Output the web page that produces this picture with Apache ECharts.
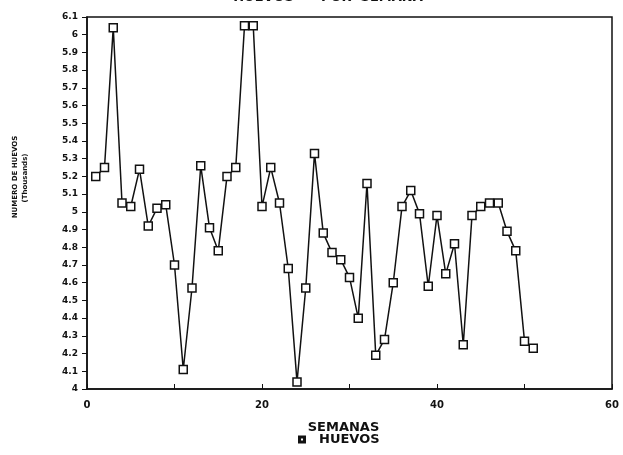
<!DOCTYPE html>
<html><head><meta charset="utf-8">
<script src="https://cdn.jsdelivr.net/npm/echarts@6/dist/echarts.min.js"></script>
<style>html,body{margin:0;padding:0;background:#fff}#c{width:623px;height:455px}</style>
</head><body><div id="c"></div>
<script>
const weeks = [1,2,3,4,5,6,7,8,9,10,11,12,13,14,15,16,17,18,19,20,21,22,23,24,25,26,27,28,29,30,31,32,33,34,35,36,37,38,39,40,41,42,43,44,45,46,47,48,49,50,51];
const huevos = [5.20,5.25,6.04,5.05,5.03,5.24,4.92,5.02,5.04,4.70,4.11,4.57,5.26,4.91,4.78,5.20,5.25,6.05,6.05,5.03,5.25,5.05,4.68,4.04,4.57,5.33,4.88,4.77,4.73,4.63,4.40,5.16,4.19,4.28,4.60,5.03,5.12,4.99,4.58,4.98,4.65,4.82,4.25,4.98,5.03,5.05,5.05,4.89,4.78,4.27,4.23];
const xTickLabels = {0:'0',20:'20',40:'40',60:'60'};
const titleText = 'HUEVOS      POR  SEMANA';
const xName = 'SEMANAS';
const yName = 'NUMERO DE HUEVOS';
const ySub = '(Thousands)';
const seriesName = 'HUEVOS';

const chart = echarts.init(document.getElementById('c'), null, {renderer:'canvas'});
const F = 'DejaVu Sans';
chart.setOption({
  animation:false,
  backgroundColor:'#fff',
  title:{text:titleText,left:328,top:-9,padding:0,textAlign:'center',textStyle:{fontFamily:F,fontWeight:'bold',fontSize:13,color:'#111'}},
  grid:{left:87,right:11,top:17,bottom:66,show:true,borderColor:'#111',borderWidth:1.5},
  legend:{data:[{name:seriesName,icon:'path://M1,1H9V9H1Z M2.3,2.3V7.7H7.7V2.3Z'}],bottom:4,left:293,itemWidth:6,itemHeight:6,
    formatter:n=>'  '+n,
    textStyle:{fontFamily:F,fontWeight:'bold',fontSize:13,color:'#111'},itemStyle:{color:'#111'}},
  xAxis:{type:'value',min:0,max:60,interval:10,name:xName,nameLocation:'middle',nameGap:32,
    nameTextStyle:{fontFamily:F,fontWeight:'bold',fontSize:13,color:'#111',padding:[0,12,0,0]},
    axisLine:{lineStyle:{color:'#111',width:1.5}},axisTick:{inside:true,length:5,lineStyle:{color:'#111'}},
    splitLine:{show:false},
    axisLabel:{margin:11,fontFamily:F,fontWeight:'bold',fontSize:10,color:'#111',formatter:v=>xTickLabels[v]!==undefined?xTickLabels[v]:''}},
  yAxis:{type:'value',min:4,max:6.1,interval:0.1,
    axisLine:{lineStyle:{color:'#111',width:1.5}},axisTick:{length:5,lineStyle:{color:'#111'}},splitLine:{show:false},
    axisLabel:{margin:9,fontFamily:F,fontWeight:'bold',fontSize:9,color:'#111',formatter:v=>String(parseFloat(v.toFixed(1)))}},
  graphic:[
    {type:'text',x:15,y:177,rotation:Math.PI/2,style:{text:yName,align:'center',verticalAlign:'middle',fontFamily:F,fontWeight:'bold',fontSize:7,fill:'#111'}},
    {type:'text',x:25,y:178,rotation:Math.PI/2,style:{text:ySub,align:'center',verticalAlign:'middle',fontFamily:F,fontWeight:'bold',fontSize:7,fill:'#111'}}
  ],
  series:[{name:seriesName,type:'line',data:weeks.map((w,i)=>[w,huevos[i]]),
    symbol:'rect',symbolSize:8,
    itemStyle:{color:'#fff',borderColor:'#111',borderWidth:1.5},
    lineStyle:{color:'#111',width:1.5}}]
});
</script></body></html>
